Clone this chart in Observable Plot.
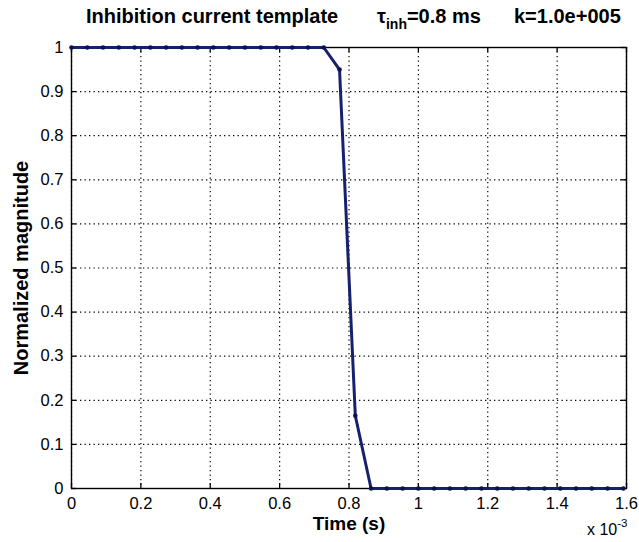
<!DOCTYPE html>
<html>
<head>
<meta charset="utf-8">
<script src="https://cdn.jsdelivr.net/npm/d3@7"></script>
<script src="https://cdn.jsdelivr.net/npm/@observablehq/plot@0.6"></script>
<style>
  html, body { margin: 0; padding: 0; background: #fff; }
  #chart svg { display: block; }
</style>
</head>
<body>
<div id="chart"></div>
<script>
// Sample times (x 10^-3 s) and normalized magnitude
const timeMs = [
  0.0000, 0.0455, 0.0909, 0.1364, 0.1818, 0.2273, 0.2727, 0.3182, 0.3636,
  0.4091, 0.4545, 0.5000, 0.5455, 0.5909, 0.6364, 0.6818, 0.7273, 0.7727,
  0.8182, 0.8636, 0.9091, 0.9545, 1.0000, 1.0455, 1.0909, 1.1364, 1.1818,
  1.2273, 1.2727, 1.3182, 1.3636, 1.4091, 1.4545, 1.5000, 1.5455, 1.5909
];
const magnitude = [
  1, 1, 1, 1, 1, 1, 1, 1, 1,
  1, 1, 1, 1, 1, 1, 1, 1, 0.95,
  0.165, 0, 0, 0, 0, 0, 0, 0, 0,
  0, 0, 0, 0, 0, 0, 0, 0, 0
];
const xTicks = [0, 0.2, 0.4, 0.6, 0.8, 1, 1.2, 1.4, 1.6];
const yTicks = [0, 0.1, 0.2, 0.3, 0.4, 0.5, 0.6, 0.7, 0.8, 0.9, 1];
const xLabelText = "Time (s)";
const yLabelText = "Normalized magnitude";
const titleMain = "Inhibition current template";
const titleTau = "τ";
const titleSub = "inh";
const titleTauValue = "=0.8 ms";
const titleK = "k=1.0e+005";
const exponentBase = "x 10";
const exponentPower = "-3";

const data = timeMs.map((t, i) => ({t, v: magnitude[i]}));
const lineColor = "#15206f";
const dotColor = "#0b1250";
const font = "'Liberation Sans', Arial, Helvetica, sans-serif";

const W = 639, H = 542, mL = 71, mR = 13, mT = 47, mB = 54;
const frameW = W - mL - mR, frameH = H - mT - mB, tickLen = 5;

const chart = Plot.plot({
  width: W,
  height: H,
  marginLeft: mL,
  marginRight: mR,
  marginTop: mT,
  marginBottom: mB,
  style: {fontFamily: font, fontSize: "16.5px", color: "#000", background: "#fff"},
  x: {domain: [0, 1.6], ticks: xTicks, label: null},
  y: {domain: [0, 1], ticks: yTicks, label: null},
  marks: [
    Plot.gridX(xTicks, {stroke: "#000", strokeOpacity: 1, strokeDasharray: "1.3,3.2", strokeWidth: 1.2}),
    Plot.gridY(yTicks, {stroke: "#000", strokeOpacity: 1, strokeDasharray: "1.3,3.2", strokeWidth: 1.2}),
    // inward ticks on all four sides
    Plot.tickX(xTicks, {x: d => d, insetTop: frameH - tickLen, stroke: "#000", strokeWidth: 1.3}),
    Plot.tickX(xTicks, {x: d => d, insetBottom: frameH - tickLen, stroke: "#000", strokeWidth: 1.3}),
    Plot.tickY(yTicks, {y: d => d, insetRight: frameW - tickLen, stroke: "#000", strokeWidth: 1.3}),
    Plot.tickY(yTicks, {y: d => d, insetLeft: frameW - tickLen, stroke: "#000", strokeWidth: 1.3}),
    Plot.frame({stroke: "#000", strokeWidth: 1.4}),
    Plot.axisX({anchor: "bottom", ticks: xTicks, tickSize: 0, tickPadding: 9, tickFormat: d => String(d)}),
    Plot.axisY({anchor: "left", ticks: yTicks, tickSize: 0, tickPadding: 8, tickFormat: d => String(d)}),
    Plot.line(data, {x: "t", y: "v", stroke: lineColor, strokeWidth: 3}),
    Plot.dot(data, {x: "t", y: "v", r: 2.3, fill: dotColor, stroke: "none"}),
    Plot.text([xLabelText], {text: d => d, frameAnchor: "bottom", lineAnchor: "middle", dy: 35, fontWeight: "bold", fontSize: 19, fill: "#000"}),
    Plot.text([yLabelText], {text: d => d, frameAnchor: "left", textAnchor: "middle", lineAnchor: "middle", dx: -50, rotate: -90, fontWeight: "bold", fontSize: 20, fill: "#000"})
  ]
});

document.getElementById("chart").appendChild(chart);

// Title with subscript, and the x-axis exponent note
const svg = d3.select(chart);
const title = svg.append("text")
  .attr("font-family", font)
  .attr("font-weight", "bold")
  .attr("font-size", 20)
  .attr("text-anchor", "start")
  .attr("fill", "#000")
  .attr("y", 23);
title.append("tspan").attr("x", 86).text(titleMain);
title.append("tspan").attr("x", 377).text(titleTau);
title.append("tspan").attr("dy", 6).attr("font-size", 14).text(titleSub);
title.append("tspan").attr("dy", -6).text(titleTauValue);
title.append("tspan").attr("x", 514).text(titleK);

const expo = svg.append("text")
  .attr("font-family", font)
  .attr("font-size", 16)
  .attr("text-anchor", "start")
  .attr("fill", "#000")
  .attr("x", 587)
  .attr("y", 535);
expo.append("tspan").text(exponentBase);
expo.append("tspan").attr("dy", -8).attr("font-size", 11.5).text(exponentPower);
</script>
</body>
</html>
